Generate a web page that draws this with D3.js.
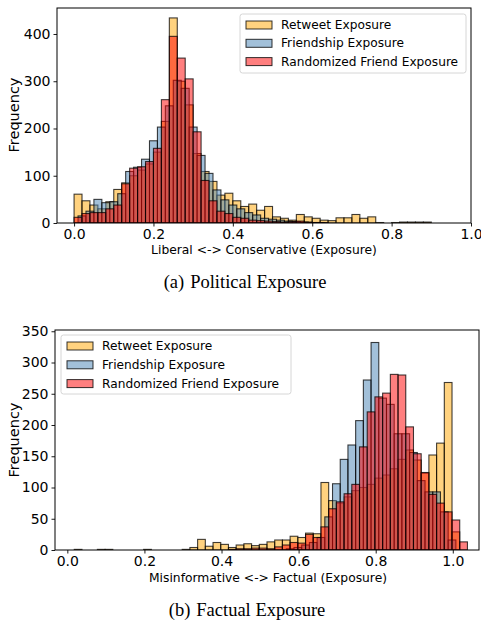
<!DOCTYPE html>
<html><head><meta charset="utf-8">
<script src="https://cdn.jsdelivr.net/npm/d3@7"></script>
<style>body{margin:0;background:#fff}svg{display:block}</style>
</head><body>
<svg id="c" width="481" height="623"></svg>
<script>
// ---------- DATA ----------
const seriesNames = ["Retweet Exposure", "Friendship Exposure", "Randomized Friend Exposure"];
const binWidth = 0.02;
// (a) Political exposure: bin starts of each series
const politicalStarts = [0, 0.01, 0];
const politicalRetweet = [61,47,38,30,45,71,85,100,112,125,150,215,434,300,250,147,109,88,59,63,47,35,40,27,35,13,10,6,18,13,10,6,5,11,11,18,10,13,1,0,1,2,2,2,2,0];
const politicalFriend = [15,25,50,43,45,62,109,118,135,174,203,248,302,285,203,143,105,70,49,38,30,22,17,10,8,6,4,3,2,1,1];
const politicalRandom = [12,20,22,22,30,38,83,116,119,130,158,261,395,349,305,193,90,47,25,20,12,10,6,5,4,3,2,3,4,2,1,1];
const politicalXTicks = [0,0.2,0.4,0.6,0.8,1.0];
const politicalYTicks = [0,100,200,300,400];
// (b) Factual exposure
const factualStarts = [0.018, 0.008, 0.018];
const factualRetweet = [1,0,0,1,1,0,0,0,0,1,0,0,0,0,1,4,17,6,12,9,4,8,10,7,9,13,16,16,22,20,27,26,108,79,75,85,95,100,105,115,120,130,145,160,144,123,152,171,268,29];
const factualFriend = [0,0,0,0,0,0,0,0,0,0,0,0,0,0,0,0,0,0,0,0,0,0,0,0,0,0,0,0,2,4,8,12,20,53,106,145,168,207,272,332,243,233,186,186,156,111,93,93,61,16];
const factualRandom = [0,0,0,0,0,0,0,0,0,0,0,0,0,0,0,0,0,0,0,0,1,2,2,3,3,2,5,8,12,11,25,20,37,66,77,90,105,165,221,245,251,281,280,197,154,124,89,75,61,48,13];
const factualXTicks = [0,0.2,0.4,0.6,0.8,1.0];
const factualYTicks = [0,50,100,150,200,250,300,350];

const colors = ["#FFA500", "#4682B4", "#FF0000"];
const FONT = "DejaVu Sans";
const svg = d3.select("#c");
svg.append("rect").attr("width",481).attr("height",623).attr("fill","#fff");

function panel(cfg){
  const x = d3.scaleLinear().domain(cfg.xDomain).range([cfg.left, cfg.right]);
  const y = d3.scaleLinear().domain(cfg.yDomain).range([cfg.bottom, cfg.top]);
  const g = svg.append("g");
  const clipId = "clip" + cfg.id;
  svg.append("clipPath").attr("id", clipId).append("rect")
    .attr("x", cfg.left).attr("y", cfg.top).attr("width", cfg.right-cfg.left).attr("height", cfg.bottom-cfg.top);
  const bars = g.append("g").attr("clip-path", `url(#${clipId})`);
  cfg.series.forEach((counts, si) => {
    const start = cfg.starts[si];
    const data = counts.map((c, i) => ({x0: start + i*binWidth, x1: start + (i+1)*binWidth, c}));
    bars.append("g").selectAll("rect").data(data.filter(d => d.c > 0)).join("rect")
      .attr("x", d => x(d.x0)).attr("width", d => x(d.x1) - x(d.x0))
      .attr("y", d => y(d.c)).attr("height", d => y(0) - y(d.c))
      .attr("fill", colors[si]).attr("fill-opacity", 0.5)
      .attr("stroke", "#000").attr("stroke-opacity", 0.75).attr("stroke-width", 1.1);
  });
  // axes
  const ax = g.append("g").attr("transform", `translate(0,${cfg.bottom})`)
    .call(d3.axisBottom(x).tickValues(cfg.xTicks).tickFormat(d3.format(".1f")).tickSize(3.5).tickPadding(3));
  const ay = g.append("g").attr("transform", `translate(${cfg.left},0)`)
    .call(d3.axisLeft(y).tickValues(cfg.yTicks).tickFormat(d3.format("d")).tickSize(3.5).tickPadding(3));
  [ax, ay].forEach(a => {
    a.select(".domain").remove();
    a.selectAll("text").attr("font-family", FONT).attr("font-size", 14).attr("fill", "#000");
    a.selectAll("line").attr("stroke", "#000").attr("stroke-width", 0.9);
  });
  g.append("rect").attr("x", cfg.left).attr("y", cfg.top)
    .attr("width", cfg.right-cfg.left).attr("height", cfg.bottom-cfg.top)
    .attr("fill", "none").attr("stroke", "#000").attr("stroke-width", 1);
  g.append("text").attr("transform", `translate(14,${cfg.ylabelY}) rotate(-90)`)
    .attr("text-anchor","middle").attr("dominant-baseline","central")
    .attr("font-family", FONT).attr("font-size", 14.5).text("Frequency");
  g.append("text").attr("x", cfg.xlabelX).attr("y", cfg.xlabelY)
    .attr("text-anchor","middle").attr("dominant-baseline","central")
    .attr("font-family", FONT).attr("font-size", 12.3).text(cfg.xlabel);
  const cap = g.append("text").attr("x", cfg.capX).attr("y", cfg.capY)
    .attr("text-anchor","middle").attr("dominant-baseline","central")
    .attr("font-family", "Liberation Serif").attr("font-size", 18.5);
  cap.append("tspan").text(cfg.capA);
  cap.append("tspan").attr("dx", 6).text(cfg.capB);
  // legend
  const L = cfg.legend;
  const lg = g.append("g");
  lg.append("rect").attr("x", L.x).attr("y", L.y).attr("width", L.w).attr("height", L.h)
    .attr("rx", 2.5).attr("fill", "#fff").attr("fill-opacity", 0.8)
    .attr("stroke", "#d6d6d6").attr("stroke-width", 1);
  seriesNames.forEach((n, i) => {
    const ry = L.y + L.row0 + i*L.dy;
    lg.append("rect").attr("x", L.x + 6).attr("y", ry - 4).attr("width", 26).attr("height", 8)
      .attr("fill", colors[i]).attr("fill-opacity", 0.5).attr("stroke", "#000").attr("stroke-opacity", 0.8).attr("stroke-width", 1);
    lg.append("text").attr("x", L.x + 41).attr("y", ry).attr("dominant-baseline","central")
      .attr("font-family", FONT).attr("font-size", 12.2).text(n);
  });
}

panel({id:"a", left:57, right:471, top:8, bottom:223, xDomain:[-0.043,1.0], yDomain:[0,455],
  starts: politicalStarts, series:[politicalRetweet, politicalFriend, politicalRandom],
  xTicks: politicalXTicks, yTicks: politicalYTicks, ylabelY:115,
  xlabel:"Liberal <-> Conservative (Exposure)", xlabelX:264, xlabelY:249.5,
  capA:"(a)", capB:"Political Exposure", capX:245, capY:282,
  legend:{x:240, y:14, w:226, h:59, row0:11, dy:18.3}});

panel({id:"b", left:55, right:479, top:330, bottom:550, xDomain:[-0.032,1.068], yDomain:[0,352],
  starts: factualStarts, series:[factualRetweet, factualFriend, factualRandom],
  xTicks: factualXTicks, yTicks: factualYTicks, ylabelY:440,
  xlabel:"Misinformative <-> Factual (Exposure)", xlabelX:268, xlabelY:578,
  capA:"(b)", capB:"Factual Exposure", capX:247, capY:610,
  legend:{x:61, y:335, w:230, h:59, row0:11, dy:18.8}});
</script>
</body></html>
